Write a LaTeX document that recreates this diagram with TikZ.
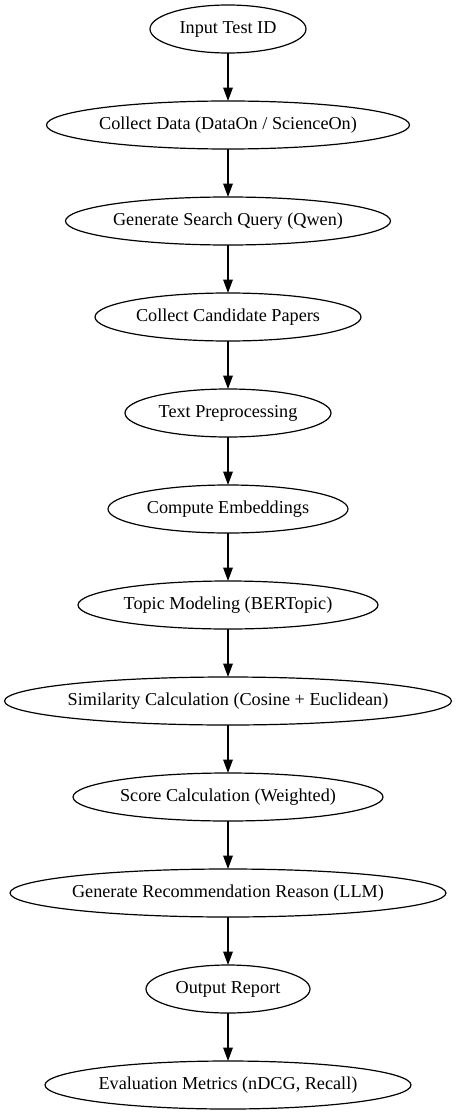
\documentclass[tikz,border=0pt]{standalone}
\usepackage{fontspec}
\setmainfont{Liberation Serif}
\usetikzlibrary{shapes.geometric,arrows.meta}
\newcommand{\ctext}[1]{\makebox[0pt]{#1}}
\begin{document}
\begin{tikzpicture}[x=1pt,y=-1pt,
  stepnode/.style={ellipse,draw,line width=1.2pt,minimum height=48pt,inner sep=0pt,outer sep=0pt,font=\fontsize{18.2}{22}\selectfont},
  flow/.style={-{Triangle[length=13.3pt,width=9.5pt]},line width=1.2pt}]
\useasboundingbox (0,0) rectangle (456,1115);
\node[stepnode,minimum width=156pt] (n1) at (228,29) {\ctext{Input Test ID}};
\node[stepnode,minimum width=363pt] (n2) at (228,125) {\ctext{Collect Data (DataOn / ScienceOn)}};
\node[stepnode,minimum width=325pt] (n3) at (228,221) {\ctext{Generate Search Query (Qwen)}};
\node[stepnode,minimum width=266pt] (n4) at (228,317) {\ctext{Collect Candidate Papers}};
\node[stepnode,minimum width=206pt] (n5) at (228,413) {\ctext{Text Preprocessing}};
\node[stepnode,minimum width=240pt] (n6) at (228,509) {\ctext{Compute Embeddings}};
\node[stepnode,minimum width=300pt] (n7) at (228,605) {\ctext{Topic Modeling (BERTopic)}};
\node[stepnode,minimum width=447pt] (n8) at (228,701) {\ctext{Similarity Calculation (Cosine + Euclidean)}};
\node[stepnode,minimum width=310pt] (n9) at (228,797) {\ctext{Score Calculation (Weighted)}};
\node[stepnode,minimum width=436pt] (n10) at (228,893) {\ctext{Generate Recommendation Reason (LLM)}};
\node[stepnode,minimum width=164pt] (n11) at (228,989) {\ctext{Output Report}};
\node[stepnode,minimum width=366pt] (n12) at (228,1085) {\ctext{Evaluation Metrics (nDCG, Recall)}};
\foreach \a/\b in {n1/n2,n2/n3,n3/n4,n4/n5,n5/n6,n6/n7,n7/n8,n8/n9,n9/n10,n10/n11,n11/n12}
  \draw[flow] (\a) -- (\b);
\end{tikzpicture}
\end{document}
